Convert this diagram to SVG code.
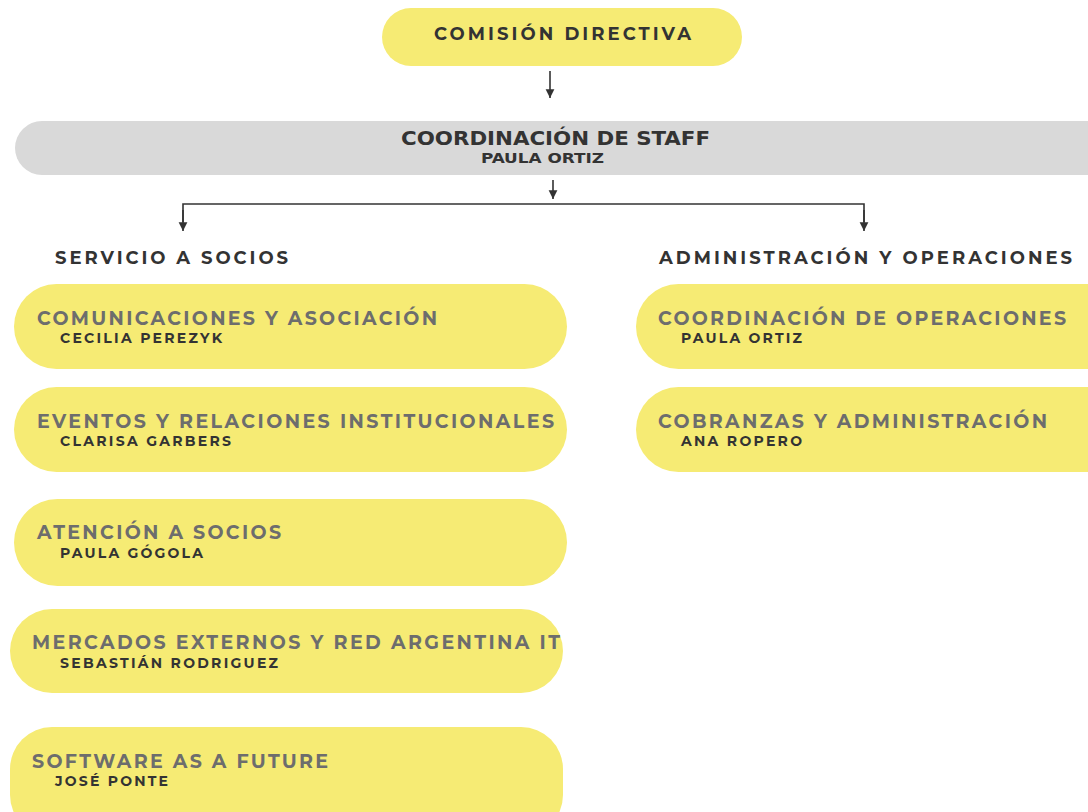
<svg xmlns="http://www.w3.org/2000/svg" width="1088" height="812" viewBox="0 0 1088 812">
<defs>
<marker id="ah" viewBox="0 0 10 10" refX="9" refY="5" markerWidth="11" markerHeight="11" markerUnits="userSpaceOnUse" orient="auto">
<path d="M1,1 L9,5 L1,9 Z" fill="#333"/>
</marker>
<style>
.pill{fill:#f6eb74}
.bar{fill:#d9d9d9}
.t{font-family:"Montserrat","Liberation Sans",Arial,sans-serif;font-weight:bold}
.top{font-size:18px;fill:#333}
.head{font-size:18px;fill:#333}
.title{font-size:19px;fill:#6d6d6d}
.name{font-size:14px;fill:#333}
.staff{font-family:"DejaVu Sans Condensed","Liberation Sans Narrow",sans-serif;font-stretch:condensed;font-weight:bold;fill:#333}
.conn{stroke:#333;stroke-width:1.6;fill:none}
</style>
</defs>
<rect width="1088" height="812" fill="#ffffff"/>

<g id="connectors">
<line class="conn" x1="550" y1="71" x2="550" y2="98" marker-end="url(#ah)"/>
<line class="conn" x1="553" y1="180" x2="553" y2="199" marker-end="url(#ah)"/>
<polyline class="conn" points="183,222 183,204 864,204 864,222"/>
<line class="conn" x1="183" y1="210" x2="183" y2="231" marker-end="url(#ah)"/>
<line class="conn" x1="864" y1="210" x2="864" y2="231" marker-end="url(#ah)"/>
</g>

<g id="comision-directiva">
<rect class="pill" x="382" y="8" width="360" height="58" rx="29"/>
<text class="t top" x="434" y="40" textLength="257" lengthAdjust="spacing">COMISIÓN DIRECTIVA</text>
</g>

<g id="coordinacion-staff">
<rect class="bar" x="15" y="121" width="1100" height="54" rx="27"/>
<text class="staff" x="401" y="145" font-size="20" textLength="309" lengthAdjust="spacingAndGlyphs">COORDINACIÓN DE STAFF</text>
<text class="staff" x="481" y="163" font-size="14" textLength="123" lengthAdjust="spacingAndGlyphs">PAULA ORTIZ</text>
</g>

<g id="servicio-socios">
<text class="t head" x="55" y="264" textLength="233" lengthAdjust="spacing">SERVICIO A SOCIOS</text>
</g>

<g id="administracion-operaciones">
<text class="t head" x="659" y="264" textLength="413" lengthAdjust="spacing">ADMINISTRACIÓN Y OPERACIONES</text>
</g>

<g id="comunicaciones">
<rect class="pill" x="14" y="284" width="553" height="85" rx="42.5"/>
<text class="t title" x="37" y="325" textLength="400" lengthAdjust="spacing">COMUNICACIONES Y ASOCIACIÓN</text>
<text class="t name" x="60" y="343" textLength="162" lengthAdjust="spacing">CECILIA PEREZYK</text>
</g>

<g id="eventos">
<rect class="pill" x="14" y="387" width="553" height="85" rx="42.5"/>
<text class="t title" x="37" y="428" textLength="517" lengthAdjust="spacing">EVENTOS Y RELACIONES INSTITUCIONALES</text>
<text class="t name" x="60" y="446" textLength="171" lengthAdjust="spacing">CLARISA GARBERS</text>
</g>

<g id="atencion">
<rect class="pill" x="14" y="499" width="553" height="87" rx="43.5"/>
<text class="t title" x="37" y="539" textLength="244" lengthAdjust="spacing">ATENCIÓN A SOCIOS</text>
<text class="t name" x="60" y="558" textLength="143" lengthAdjust="spacing">PAULA GÓGOLA</text>
</g>

<g id="mercados">
<rect class="pill" x="10" y="609" width="553" height="84" rx="42"/>
<text class="t title" x="32" y="649" textLength="528" lengthAdjust="spacing">MERCADOS EXTERNOS Y RED ARGENTINA IT</text>
<text class="t name" x="60" y="668" textLength="218" lengthAdjust="spacing">SEBASTIÁN RODRIGUEZ</text>
</g>

<g id="software">
<rect class="pill" x="10" y="727" width="553" height="110" rx="42"/>
<text class="t title" x="32" y="768" textLength="296" lengthAdjust="spacing">SOFTWARE AS A FUTURE</text>
<text class="t name" x="55" y="786" textLength="113" lengthAdjust="spacing">JOSÉ PONTE</text>
</g>

<g id="coordinacion-operaciones">
<rect class="pill" x="636" y="284" width="500" height="85" rx="42.5"/>
<text class="t title" x="658" y="325" textLength="408" lengthAdjust="spacing">COORDINACIÓN DE OPERACIONES</text>
<text class="t name" x="681" y="343" textLength="121" lengthAdjust="spacing">PAULA ORTIZ</text>
</g>

<g id="cobranzas">
<rect class="pill" x="636" y="387" width="500" height="85" rx="42.5"/>
<text class="t title" x="658" y="428" textLength="389" lengthAdjust="spacing">COBRANZAS Y ADMINISTRACIÓN</text>
<text class="t name" x="681" y="446" textLength="121" lengthAdjust="spacing">ANA ROPERO</text>
</g>
</svg>
